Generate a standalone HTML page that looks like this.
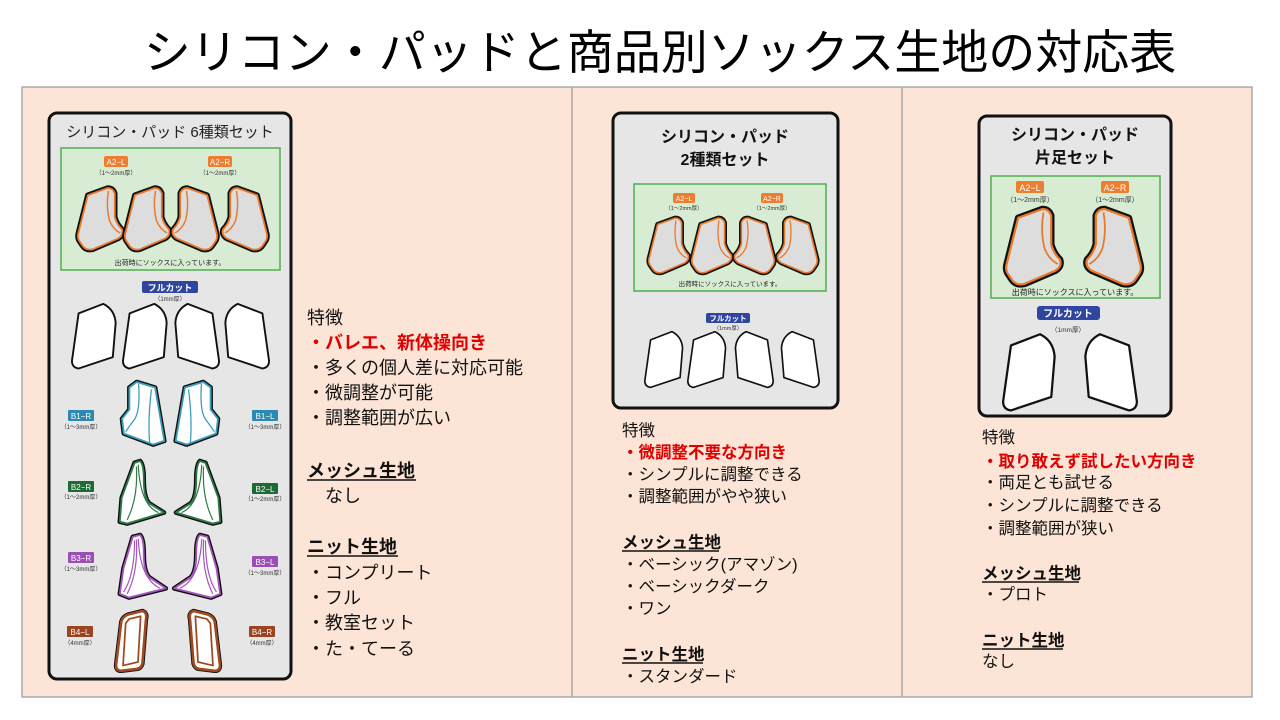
<!DOCTYPE html>
<html><head><meta charset="utf-8"><style>
html,body{margin:0;padding:0;background:#fff;}
svg{display:block;}
text{font-family:"Liberation Sans","Noto Sans CJK JP",sans-serif;}
</style></head><body>
<svg width="1280" height="720" viewBox="0 0 1280 720" xmlns="http://www.w3.org/2000/svg">
<defs>
  <g id="a2">
    <path d="M12,8 L34,0 Q40,0 42,6 L42,32 Q44,40 50,46 Q52,52 46,56 L18,68 Q10,70 6,64 L2,58 Q0,54 2,48 Z" fill="#ddd" stroke="#111" stroke-width="6" stroke-linejoin="round"/>
    <path d="M12,8 L34,0 Q40,0 42,6 L42,32 Q44,40 50,46 Q52,52 46,56 L18,68 Q10,70 6,64 L2,58 Q0,54 2,48 Z" fill="#ddd" stroke="#e8782a" stroke-width="2" stroke-linejoin="round"/>
    <path d="M35,3 Q32,20 36,36 Q40,46 48,50" fill="none" stroke="#e8782a" stroke-width="1.6"/>
  </g>
  <g id="fc">
    <path d="M8,12 L34,2 Q46,8 47,22 L44,58 L8,70 Q1,69 1,62 Z" fill="#fff" stroke="#111" stroke-width="2" stroke-linejoin="round"/>
  </g>
  <g id="b1">
    <path d="M14,6 L34,0 L42,6 L42,30 L50,40 L48,56 L16,68 L4,64 Z" fill="#fff" stroke="#111" stroke-width="5" stroke-linejoin="round"/>
    <path d="M14,6 L34,0 L42,6 L42,30 L50,40 L48,56 L16,68 L4,64 Z" fill="#fff" stroke="#3b9bb8" stroke-width="2" stroke-linejoin="round"/>
    <path d="M18,8 Q22,40 20,66 M32,2 Q30,30 36,40 Q42,48 46,54" fill="none" stroke="#3b9bb8" stroke-width="1.4"/>
  </g>
  <g id="b2">
    <path d="M18,2 L24,0 Q28,4 28,20 Q28,40 34,46 L50,56 L10,68 L2,66 L4,40 Z" fill="#fff" stroke="#111" stroke-width="5" stroke-linejoin="round"/>
    <path d="M18,2 L24,0 Q28,4 28,20 Q28,40 34,46 L50,56 L10,68 L2,66 L4,40 Z" fill="#fff" stroke="#2e7a45" stroke-width="2" stroke-linejoin="round"/>
    <path d="M20,6 Q22,40 10,64 M22,4 Q24,48 44,56" fill="none" stroke="#2e7a45" stroke-width="1.3"/>
  </g>
  <g id="b3">
    <path d="M16,2 L24,0 Q28,4 28,20 Q28,40 34,46 L52,58 L12,68 L2,64 L6,36 Z" fill="#fff" stroke="#111" stroke-width="5" stroke-linejoin="round"/>
    <path d="M16,2 L24,0 Q28,4 28,20 Q28,40 34,46 L52,58 L12,68 L2,64 L6,36 Z" fill="#fff" stroke="#a455bd" stroke-width="2" stroke-linejoin="round"/>
    <path d="M20,5 Q22,40 10,64 M22,4 Q24,48 46,58 M18,6 Q18,44 6,62" fill="none" stroke="#a455bd" stroke-width="1.3"/>
  </g>
  <g id="b4">
    <path d="M14,4 L30,0 Q36,2 34,10 L30,60 Q28,66 22,66 L6,68 Q0,68 0,62 L6,12 Q8,6 14,4 Z" fill="#fff" stroke="#111" stroke-width="5" stroke-linejoin="round"/>
    <path d="M14,4 L30,0 Q36,2 34,10 L30,60 Q28,66 22,66 L6,68 Q0,68 0,62 L6,12 Q8,6 14,4 Z" fill="#fff" stroke="#a04a22" stroke-width="3" stroke-linejoin="round"/>
    <path d="M15,9 L28,6 L25,58 L8,62 L11,14 Z" fill="#fff" stroke="#a04a22" stroke-width="2" stroke-linejoin="round"/>
  </g>
</defs>

<text x="660" y="69" font-size="47" text-anchor="middle" fill="#000">シリコン・パッドと商品別ソックス生地の対応表</text>

<rect x="22" y="87" width="1230" height="610" fill="#fce4d6" stroke="#aaa" stroke-width="1.5"/>
<line x1="572" y1="87" x2="572" y2="697" stroke="#aaa" stroke-width="1.5"/>
<line x1="902" y1="87" x2="902" y2="697" stroke="#aaa" stroke-width="1.5"/>

<!-- LEFT CARD -->
<rect x="49" y="113" width="242" height="566" rx="8" fill="#e6e6e6" stroke="#111" stroke-width="3"/>
<text x="170" y="137" font-size="15" text-anchor="middle" fill="#222">シリコン・パッド 6種類セット</text>
<rect x="61" y="148" width="219" height="122" fill="#d8ecd3" stroke="#4fae4f" stroke-width="1.5"/>
<rect x="104" y="156" width="24" height="11" rx="2" fill="#ee7d2f"/><text x="116" y="165" font-size="8" fill="#fff" text-anchor="middle">A2−L</text>
<text x="116" y="175" font-size="6" fill="#333" text-anchor="middle">（1〜2mm厚）</text>
<rect x="208" y="156" width="24" height="11" rx="2" fill="#ee7d2f"/><text x="220" y="165" font-size="8" fill="#fff" text-anchor="middle">A2−R</text>
<text x="220" y="175" font-size="6" fill="#333" text-anchor="middle">（1〜2mm厚）</text>
<use href="#a2" transform="translate(77,188) scale(0.9)"/>
<use href="#a2" transform="translate(124,188) scale(0.9)"/>
<use href="#a2" transform="translate(218,188) scale(-0.9,0.9)"/>
<use href="#a2" transform="translate(268,188) scale(-0.9,0.9)"/>
<text x="170" y="265" font-size="7" fill="#222" text-anchor="middle">出荷時にソックスに入っています。</text>
<rect x="142" y="281" width="56" height="12" rx="2" fill="#2f45a0"/><text x="170" y="291" font-size="9" fill="#fff" text-anchor="middle" font-weight="bold">フルカット</text>
<text x="170" y="301" font-size="6" fill="#333" text-anchor="middle">（1mm厚）</text>
<use href="#fc" transform="translate(71,302) scale(0.95)"/>
<use href="#fc" transform="translate(122,302) scale(0.95)"/>
<use href="#fc" transform="translate(220,302) scale(-0.95,0.95)"/>
<use href="#fc" transform="translate(270,302) scale(-0.95,0.95)"/>

<use href="#b1" transform="translate(168,382) scale(-0.92,0.92)"/>
<use href="#b1" transform="translate(172,382) scale(0.92)"/>
<rect x="68" y="410" width="26" height="11" rx="1" fill="#2c8ab0"/><text x="81" y="419" font-size="8" fill="#fff" text-anchor="middle">B1−R</text>
<text x="81" y="429" font-size="6" fill="#333" text-anchor="middle">（1〜3mm厚）</text>
<rect x="252" y="410" width="26" height="11" rx="1" fill="#2c8ab0"/><text x="265" y="419" font-size="8" fill="#fff" text-anchor="middle">B1−L</text>
<text x="265" y="429" font-size="6" fill="#333" text-anchor="middle">（1〜3mm厚）</text>

<use href="#b2" transform="translate(118,461) scale(0.92)"/>
<use href="#b2" transform="translate(222,461) scale(-0.92,0.92)"/>
<rect x="68" y="481" width="26" height="11" rx="1" fill="#1e6a36"/><text x="81" y="490" font-size="8" fill="#fff" text-anchor="middle">B2−R</text>
<text x="81" y="499" font-size="6" fill="#333" text-anchor="middle">（1〜2mm厚）</text>
<rect x="252" y="483" width="26" height="11" rx="1" fill="#1e6a36"/><text x="265" y="492" font-size="8" fill="#fff" text-anchor="middle">B2−L</text>
<text x="265" y="501" font-size="6" fill="#333" text-anchor="middle">（1〜2mm厚）</text>

<use href="#b3" transform="translate(118,535) scale(0.92)"/>
<use href="#b3" transform="translate(222,535) scale(-0.92,0.92)"/>
<rect x="68" y="552" width="26" height="11" rx="1" fill="#9b4fb5"/><text x="81" y="561" font-size="8" fill="#fff" text-anchor="middle">B3−R</text>
<text x="81" y="571" font-size="6" fill="#333" text-anchor="middle">（1〜3mm厚）</text>
<rect x="252" y="556" width="26" height="11" rx="1" fill="#9b4fb5"/><text x="265" y="565" font-size="8" fill="#fff" text-anchor="middle">B3−L</text>
<text x="265" y="575" font-size="6" fill="#333" text-anchor="middle">（1〜3mm厚）</text>

<use href="#b4" transform="translate(116,611) scale(0.88)"/>
<use href="#b4" transform="translate(220,611) scale(-0.88,0.88)"/>
<rect x="67" y="626" width="26" height="11" rx="1" fill="#9c4420"/><text x="80" y="635" font-size="8" fill="#fff" text-anchor="middle">B4−L</text>
<text x="80" y="645" font-size="6" fill="#333" text-anchor="middle">（4mm厚）</text>
<rect x="249" y="626" width="26" height="11" rx="1" fill="#9c4420"/><text x="262" y="635" font-size="8" fill="#fff" text-anchor="middle">B4−R</text>
<text x="262" y="645" font-size="6" fill="#333" text-anchor="middle">（4mm厚）</text>

<g font-size="18" fill="#111">
<text x="307" y="324">特徴</text>
<text x="307" y="349" fill="#e00000" font-weight="bold">・バレエ、新体操向き</text>
<text x="307" y="374">・多くの個人差に対応可能</text>
<text x="307" y="399">・微調整が可能</text>
<text x="307" y="424">・調整範囲が広い</text>
<text x="307" y="477" font-weight="bold">メッシュ生地</text>
<text x="307" y="502">　なし</text>
<text x="307" y="553" font-weight="bold">ニット生地</text>
<text x="307" y="579">・コンプリート</text>
<text x="307" y="604">・フル</text>
<text x="307" y="629">・教室セット</text>
<text x="307" y="655">・た・てーる</text>
</g>
<line x1="307" y1="480" x2="416" y2="480" stroke="#111" stroke-width="1.5"/>
<line x1="307" y1="556" x2="398" y2="556" stroke="#111" stroke-width="1.5"/>

<!-- MIDDLE CARD -->
<rect x="613" y="113" width="225" height="295" rx="8" fill="#e6e6e6" stroke="#111" stroke-width="3"/>
<text x="725" y="142" font-size="16" text-anchor="middle" fill="#111" font-weight="bold">シリコン・パッド</text>
<text x="725" y="165" font-size="16" text-anchor="middle" fill="#111" font-weight="bold">2種類セット</text>
<rect x="634" y="184" width="192" height="107" fill="#d8ecd3" stroke="#4fae4f" stroke-width="1.5"/>
<rect x="673" y="193" width="22" height="10" rx="2" fill="#ee7d2f"/><text x="684" y="201" font-size="7" fill="#fff" text-anchor="middle">A2−L</text>
<text x="684" y="210" font-size="5.5" fill="#333" text-anchor="middle">（1〜2mm厚）</text>
<rect x="761" y="193" width="22" height="10" rx="2" fill="#ee7d2f"/><text x="772" y="201" font-size="7" fill="#fff" text-anchor="middle">A2−R</text>
<text x="772" y="210" font-size="5.5" fill="#333" text-anchor="middle">（1〜2mm厚）</text>
<use href="#a2" transform="translate(648,218) scale(0.8)"/>
<use href="#a2" transform="translate(691,218) scale(0.8)"/>
<use href="#a2" transform="translate(775,218) scale(-0.8,0.8)"/>
<use href="#a2" transform="translate(818,218) scale(-0.8,0.8)"/>
<text x="730" y="286" font-size="6.5" fill="#222" text-anchor="middle">出荷時にソックスに入っています。</text>
<rect x="706" y="313" width="44" height="10" rx="2" fill="#2f45a0"/><text x="728" y="321" font-size="7.5" fill="#fff" text-anchor="middle" font-weight="bold">フルカット</text>
<text x="728" y="330" font-size="5.5" fill="#333" text-anchor="middle">（1mm厚）</text>
<use href="#fc" transform="translate(644,330) scale(0.82)"/>
<use href="#fc" transform="translate(687,330) scale(0.82)"/>
<use href="#fc" transform="translate(774,330) scale(-0.82,0.82)"/>
<use href="#fc" transform="translate(820,330) scale(-0.82,0.82)"/>

<g font-size="16.5" fill="#111">
<text x="622" y="436">特徴</text>
<text x="622" y="458" fill="#e00000" font-weight="bold">・微調整不要な方向き</text>
<text x="622" y="480">・シンプルに調整できる</text>
<text x="622" y="502">・調整範囲がやや狭い</text>
<text x="622" y="548" font-weight="bold">メッシュ生地</text>
<text x="622" y="570">・ベーシック(アマゾン)</text>
<text x="622" y="592">・ベーシックダーク</text>
<text x="622" y="614">・ワン</text>
<text x="622" y="660" font-weight="bold">ニット生地</text>
<text x="622" y="682">・スタンダード</text>
</g>
<line x1="622" y1="551" x2="719" y2="551" stroke="#111" stroke-width="1.5"/>
<line x1="622" y1="663" x2="703" y2="663" stroke="#111" stroke-width="1.5"/>

<!-- RIGHT CARD -->
<rect x="979" y="116" width="192" height="300" rx="8" fill="#e6e6e6" stroke="#111" stroke-width="3"/>
<text x="1075" y="140" font-size="16" text-anchor="middle" fill="#111" font-weight="bold">シリコン・パッド</text>
<text x="1075" y="163" font-size="16" text-anchor="middle" fill="#111" font-weight="bold">片足セット</text>
<rect x="991" y="176" width="169" height="122" fill="#d8ecd3" stroke="#4fae4f" stroke-width="1.5"/>
<rect x="1016" y="181" width="28" height="12" rx="2" fill="#ee7d2f"/><text x="1030" y="191" font-size="9" fill="#fff" text-anchor="middle">A2−L</text>
<text x="1030" y="202" font-size="7" fill="#333" text-anchor="middle">（1〜2mm厚）</text>
<rect x="1101" y="181" width="28" height="12" rx="2" fill="#ee7d2f"/><text x="1115" y="191" font-size="9" fill="#fff" text-anchor="middle">A2−R</text>
<text x="1115" y="202" font-size="7" fill="#333" text-anchor="middle">（1〜2mm厚）</text>
<use href="#a2" transform="translate(1005,209) scale(1.1)"/>
<use href="#a2" transform="translate(1142,209) scale(-1.1,1.1)"/>
<text x="1075" y="295" font-size="8" fill="#222" text-anchor="middle">出荷時にソックスに入っています。</text>
<rect x="1037" y="306" width="63" height="14" rx="3" fill="#2f45a0"/><text x="1068" y="317" font-size="10" fill="#fff" text-anchor="middle" font-weight="bold">フルカット</text>
<text x="1068" y="332" font-size="6.5" fill="#333" text-anchor="middle">（1mm厚）</text>
<use href="#fc" transform="translate(1002,332) scale(1.12)"/>
<use href="#fc" transform="translate(1138,332) scale(-1.12,1.12)"/>

<g font-size="16.5" fill="#111">
<text x="982" y="443">特徴</text>
<text x="982" y="467" fill="#e00000" font-weight="bold">・取り敢えず試したい方向き</text>
<text x="982" y="488">・両足とも試せる</text>
<text x="982" y="511">・シンプルに調整できる</text>
<text x="982" y="534">・調整範囲が狭い</text>
<text x="982" y="579" font-weight="bold">メッシュ生地</text>
<text x="982" y="600">・プロト</text>
<text x="982" y="646" font-weight="bold">ニット生地</text>
<text x="982" y="667">なし</text>
</g>
<line x1="982" y1="582" x2="1079" y2="582" stroke="#111" stroke-width="1.5"/>
<line x1="982" y1="649" x2="1063" y2="649" stroke="#111" stroke-width="1.5"/>
</svg>
</body></html>
